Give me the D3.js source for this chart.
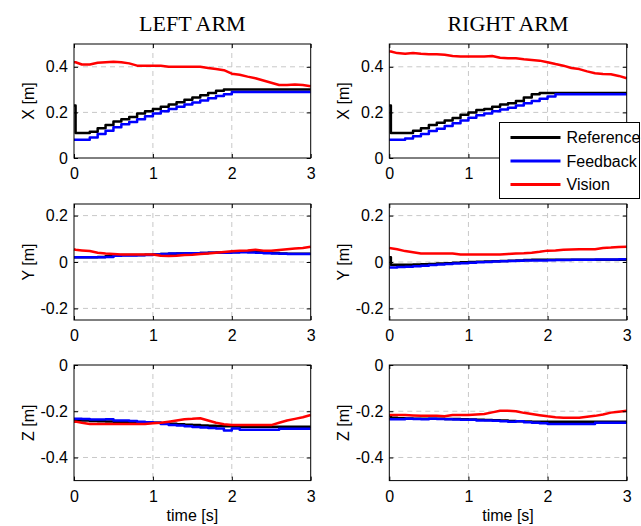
<!DOCTYPE html>
<html>
<head>
<meta charset="utf-8">
<script src="https://cdn.jsdelivr.net/npm/d3@7"></script>
<style>
  body { margin: 0; background: #fff; }
  svg text { font-family: "Liberation Sans", Arial, sans-serif; }
</style>
</head>
<body>
<div id="chart"></div>
<script>
// sample times shared by every series (s)
var TIME = [0, 0.02, 0.1, 0.2, 0.3, 0.4, 0.5, 0.6, 0.7, 0.8, 0.9, 1.0, 1.1, 1.2, 1.3, 1.4, 1.5,
  1.6, 1.7, 1.8, 1.9, 2.0, 2.1, 2.2, 2.3, 2.4, 2.5, 2.6, 2.7, 2.8, 2.9, 3.0];

// LEFT ARM
var leftXRef = [0.23, 0.11, 0.11, 0.115, 0.13, 0.145, 0.16, 0.17, 0.18, 0.195, 0.205, 0.215, 0.225, 0.235, 0.245, 0.255,
  0.265, 0.275, 0.285, 0.295, 0.30, 0.30, 0.30, 0.30, 0.30, 0.30, 0.30, 0.30, 0.30, 0.30, 0.30, 0.30];
var leftXFbk = [0.08, 0.08, 0.08, 0.09, 0.105, 0.12, 0.135, 0.148, 0.158, 0.17, 0.183, 0.195, 0.205, 0.215, 0.225, 0.235,
  0.243, 0.252, 0.262, 0.272, 0.28, 0.29, 0.29, 0.29, 0.29, 0.29, 0.29, 0.29, 0.29, 0.29, 0.29, 0.29];
var leftXVis = [0.42, 0.42, 0.41, 0.41, 0.418, 0.42, 0.422, 0.42, 0.415, 0.405, 0.405, 0.405, 0.405, 0.40, 0.40, 0.40,
  0.40, 0.40, 0.395, 0.39, 0.385, 0.37, 0.365, 0.357, 0.35, 0.34, 0.33, 0.32, 0.32, 0.322, 0.32, 0.315];

var leftYRef = [0.02, 0.02, 0.02, 0.02, 0.022, 0.025, 0.028, 0.03, 0.03, 0.03, 0.031, 0.032, 0.034, 0.036, 0.037, 0.038,
  0.038, 0.039, 0.04, 0.041, 0.042, 0.043, 0.044, 0.044, 0.043, 0.041, 0.039, 0.037, 0.036, 0.036, 0.036, 0.036];
var leftYFbk = [0.02, 0.02, 0.02, 0.02, 0.02, 0.022, 0.027, 0.028, 0.028, 0.029, 0.03, 0.032, 0.035, 0.037, 0.037, 0.038,
  0.038, 0.039, 0.04, 0.04, 0.04, 0.041, 0.042, 0.041, 0.04, 0.038, 0.037, 0.036, 0.035, 0.035, 0.035, 0.035];
var leftYVis = [0.055, 0.053, 0.05, 0.047, 0.04, 0.037, 0.035, 0.032, 0.032, 0.032, 0.032, 0.032, 0.027, 0.026, 0.027, 0.03,
  0.031, 0.034, 0.037, 0.04, 0.043, 0.046, 0.048, 0.05, 0.053, 0.049, 0.048, 0.052, 0.055, 0.058, 0.06, 0.066];

var leftZRef = [-0.24, -0.24, -0.24, -0.242, -0.243, -0.244, -0.245, -0.246, -0.247, -0.248, -0.249, -0.25, -0.252, -0.254, -0.256, -0.258,
  -0.26, -0.262, -0.263, -0.264, -0.265, -0.266, -0.267, -0.267, -0.267, -0.267, -0.267, -0.267, -0.267, -0.267, -0.267, -0.267];
var leftZFbk = [-0.232, -0.232, -0.234, -0.236, -0.236, -0.235, -0.24, -0.24, -0.242, -0.245, -0.248, -0.25, -0.255, -0.26, -0.262, -0.265,
  -0.268, -0.27, -0.272, -0.275, -0.283, -0.275, -0.28, -0.28, -0.28, -0.28, -0.28, -0.276, -0.276, -0.276, -0.276, -0.276];
var leftZVis = [-0.245, -0.245, -0.25, -0.255, -0.255, -0.255, -0.255, -0.255, -0.255, -0.255, -0.255, -0.252, -0.25, -0.245, -0.24, -0.235,
  -0.233, -0.23, -0.24, -0.25, -0.256, -0.26, -0.26, -0.26, -0.26, -0.26, -0.26, -0.25, -0.24, -0.233, -0.226, -0.216];

// RIGHT ARM
var rightXRef = [0.23, 0.11, 0.11, 0.11, 0.12, 0.13, 0.145, 0.155, 0.165, 0.175, 0.19, 0.2, 0.21, 0.215, 0.225, 0.235,
  0.24, 0.25, 0.265, 0.28, 0.285, 0.285, 0.285, 0.285, 0.285, 0.285, 0.285, 0.285, 0.285, 0.285, 0.285, 0.285];
var rightXFbk = [0.08, 0.08, 0.08, 0.085, 0.095, 0.105, 0.118, 0.128, 0.14, 0.152, 0.165, 0.177, 0.187, 0.195, 0.205, 0.213,
  0.22, 0.23, 0.24, 0.25, 0.26, 0.27, 0.28, 0.28, 0.28, 0.28, 0.28, 0.28, 0.28, 0.28, 0.28, 0.28];
var rightXVis = [0.467, 0.467, 0.46, 0.457, 0.46, 0.457, 0.455, 0.455, 0.453, 0.447, 0.445, 0.445, 0.445, 0.445, 0.447, 0.44,
  0.437, 0.437, 0.433, 0.43, 0.427, 0.42, 0.412, 0.405, 0.395, 0.39, 0.38, 0.372, 0.368, 0.367, 0.36, 0.35];

var rightYRef = [0.02, -0.012, -0.012, -0.012, -0.011, -0.01, -0.009, -0.007, -0.005, -0.003, -0.001, 0.0, 0.001, 0.002, 0.003, 0.004,
  0.005, 0.007, 0.009, 0.01, 0.01, 0.01, 0.01, 0.01, 0.01, 0.01, 0.01, 0.01, 0.01, 0.01, 0.01, 0.01];
var rightYFbk = [-0.024, -0.024, -0.022, -0.02, -0.018, -0.016, -0.013, -0.011, -0.009, -0.007, -0.005, -0.003, -0.001, 0.0, 0.002, 0.003,
  0.004, 0.005, 0.006, 0.007, 0.007, 0.008, 0.009, 0.009, 0.01, 0.01, 0.01, 0.011, 0.011, 0.011, 0.012, 0.012];
var rightYVis = [0.06, 0.059, 0.055, 0.047, 0.042, 0.037, 0.037, 0.037, 0.037, 0.037, 0.032, 0.032, 0.032, 0.032, 0.032, 0.032,
  0.035, 0.037, 0.038, 0.04, 0.044, 0.049, 0.05, 0.053, 0.054, 0.055, 0.055, 0.055, 0.06, 0.062, 0.065, 0.066];

var rightZRef = [-0.22, -0.228, -0.23, -0.231, -0.232, -0.232, -0.233, -0.233, -0.234, -0.234, -0.235, -0.236, -0.237, -0.238, -0.239, -0.24,
  -0.242, -0.243, -0.244, -0.245, -0.245, -0.245, -0.245, -0.245, -0.245, -0.245, -0.245, -0.245, -0.245, -0.245, -0.245, -0.245];
var rightZFbk = [-0.235, -0.235, -0.235, -0.233, -0.234, -0.235, -0.233, -0.234, -0.235, -0.236, -0.237, -0.237, -0.24, -0.24, -0.241, -0.243,
  -0.245, -0.243, -0.248, -0.25, -0.252, -0.255, -0.255, -0.255, -0.255, -0.255, -0.255, -0.25, -0.25, -0.25, -0.25, -0.25];
var rightZVis = [-0.216, -0.216, -0.216, -0.216, -0.218, -0.22, -0.22, -0.22, -0.222, -0.216, -0.216, -0.216, -0.214, -0.212, -0.205, -0.198,
  -0.198, -0.2, -0.207, -0.212, -0.217, -0.222, -0.226, -0.228, -0.228, -0.228, -0.224, -0.22, -0.214, -0.206, -0.202, -0.198];

var titles = ["LEFT ARM", "RIGHT ARM"];
var seriesNames = ["Reference", "Feedback", "Vision"];
var seriesColors = ["#000000", "#0000ff", "#ff0000"];
var xTicks = [0, 1, 2, 3];
var axisLabels = ["X [m]", "Y [m]", "Z [m]"];
var yDomains = [[0, 0.5], [-0.25, 0.25], [-0.5, 0]];
var yTicks = [[0, 0.2, 0.4], [-0.2, 0, 0.2], [-0.4, -0.2, 0]];

var panelData = [
  [[leftXRef, leftXFbk, leftXVis], [rightXRef, rightXFbk, rightXVis]],
  [[leftYRef, leftYFbk, leftYVis], [rightYRef, rightYFbk, rightYVis]],
  [[leftZRef, leftZFbk, leftZVis], [rightZRef, rightZFbk, rightZVis]]
];

// layout
var W = 641, H = 526;
var cols = [[74, 310.7], [389.3, 626.7]];
var rows = [[44, 158], [204, 320], [365, 480.6]];
var legendBox = { x: 499.5, y: 122.5, w: 140, h: 76 };

var svg = d3.select("#chart").append("svg").attr("width", W).attr("height", H);

function fmt(d) { return d === 0 ? "0" : String(d); }

rows.forEach(function(r, ri) {
  cols.forEach(function(c, ci) {
    var x = d3.scaleLinear().domain([0, 3]).range(c);
    var y = d3.scaleLinear().domain(yDomains[ri]).range([r[1], r[0]]);
    var g = svg.append("g");

    // dashed grid
    g.selectAll(".gx").data(xTicks.slice(1, -1)).enter().append("line")
      .attr("x1", function(d) { return x(d); }).attr("x2", function(d) { return x(d); })
      .attr("y1", r[0]).attr("y2", r[1])
      .attr("stroke", "#c8c8c8").attr("stroke-dasharray", "5,4");
    g.selectAll(".gy").data(yTicks[ri]).enter().append("line")
      .filter(function(d) { return d !== yDomains[ri][0] && d !== yDomains[ri][1]; })
      .attr("x1", c[0]).attr("x2", c[1])
      .attr("y1", function(d) { return y(d); }).attr("y2", function(d) { return y(d); })
      .attr("stroke", "#c8c8c8").attr("stroke-dasharray", "5,4");

    // data
    var line = d3.line().x(function(d, i) { return x(TIME[i]); }).y(function(d) { return y(d); });
    panelData[ri][ci].forEach(function(vals, si) {
      line.curve(si === 2 ? d3.curveLinear : d3.curveStepAfter);
      g.append("path").attr("d", line(vals))
        .attr("fill", "none").attr("stroke", seriesColors[si])
        .attr("stroke-width", 2.5).attr("stroke-linejoin", "round");
    });

    // x tick labels hidden under the legend are not drawn
    var shownX = function(d) {
      var px = x(d);
      return !(r[1] + 4 < legendBox.y + legendBox.h && px > legendBox.x - 6 && r[1] > legendBox.y - 30);
    };

    // axes, ticks inward
    var bottom = g.append("g").attr("transform", "translate(0," + r[1] + ")")
      .call(d3.axisBottom(x).tickValues(xTicks)
        .tickFormat(function(d) { return shownX(d) ? fmt(d) : ""; })
        .tickSizeInner(-4).tickSizeOuter(0).tickPadding(6));
    var left = g.append("g").attr("transform", "translate(" + c[0] + ",0)")
      .call(d3.axisLeft(y).tickValues(yTicks[ri]).tickFormat(fmt).tickSizeInner(-4).tickSizeOuter(0).tickPadding(6));
    var top = g.append("g").attr("transform", "translate(0," + r[0] + ")")
      .call(d3.axisTop(x).tickValues(xTicks).tickFormat("").tickSizeInner(-4).tickSizeOuter(0));
    var right = g.append("g").attr("transform", "translate(" + c[1] + ",0)")
      .call(d3.axisRight(y).tickValues(yTicks[ri]).tickFormat("").tickSizeInner(-4).tickSizeOuter(0));
    [bottom, left, top, right].forEach(function(a) {
      a.select(".domain").remove();
      a.selectAll("line").attr("stroke", "#000");
      a.selectAll("text").attr("font-size", 16).attr("fill", "#000")
        .style("font-family", "'Liberation Sans', Arial, sans-serif");
      a.selectAll("text").filter(function() { return this.textContent === ""; }).remove();
    });
    bottom.selectAll("text").attr("dy", "0.95em");

    g.append("rect").attr("x", c[0]).attr("y", r[0])
      .attr("width", c[1] - c[0]).attr("height", r[1] - r[0])
      .attr("fill", "none").attr("stroke", "#000").attr("stroke-width", 1);

    // y label
    g.append("text")
      .attr("transform", "translate(" + (c[0] - 46) + "," + ((r[0] + r[1]) / 2) + ") rotate(-90)")
      .attr("text-anchor", "middle").attr("dy", "0.35em").attr("font-size", 16)
      .text(axisLabels[ri]);

    if (ri === 0) {
      g.append("text").attr("x", (c[0] + c[1]) / 2).attr("y", 31)
        .attr("text-anchor", "middle").attr("font-size", 22)
        .style("font-family", "'Liberation Serif', 'Times New Roman', serif")
        .text(titles[ci]);
    }
    if (ri === rows.length - 1) {
      g.append("text").attr("x", (c[0] + c[1]) / 2).attr("y", r[1] + 40)
        .attr("text-anchor", "middle").attr("font-size", 16)
        .text("time [s]");
    }
  });
});

// legend
var lg = svg.append("g").attr("transform", "translate(" + legendBox.x + "," + legendBox.y + ")");
lg.append("rect").attr("width", legendBox.w).attr("height", legendBox.h)
  .attr("fill", "#fff").attr("stroke", "#000").attr("stroke-width", 1);
seriesNames.forEach(function(name, i) {
  var yy = 15 + i * 23.5;
  lg.append("line").attr("x1", 11).attr("x2", 61).attr("y1", yy).attr("y2", yy)
    .attr("stroke", seriesColors[i]).attr("stroke-width", 3);
  lg.append("text").attr("x", 67).attr("y", yy).attr("dy", "0.35em")
    .attr("font-size", 16).text(name);
});
</script>
</body>
</html>
